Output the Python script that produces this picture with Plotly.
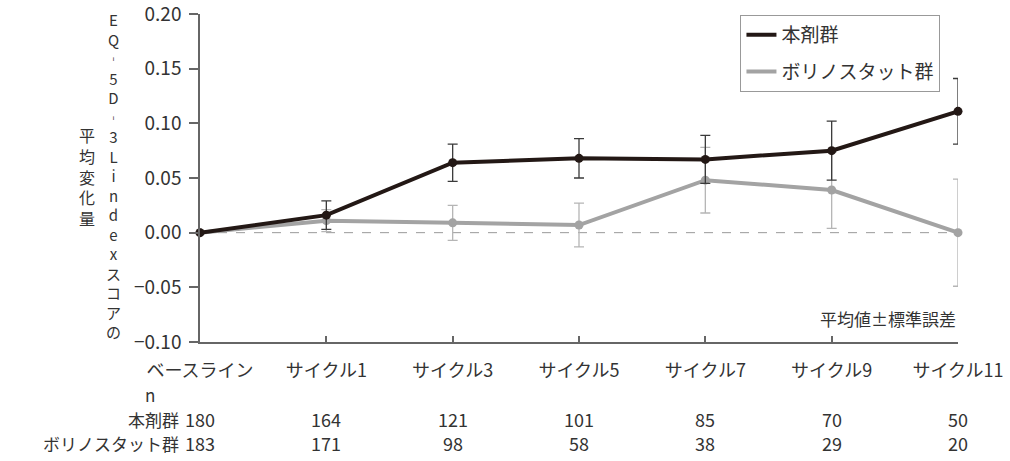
import plotly.graph_objects as go

categories = ["ベースライン", "サイクル1", "サイクル3", "サイクル5", "サイクル7", "サイクル9", "サイクル11"]
x_pos = [0, 1, 2, 3, 4, 5, 6]

drug_mean = [0.000, 0.016, 0.064, 0.068, 0.067, 0.075, 0.111]
drug_se = [0.000, 0.013, 0.017, 0.018, 0.022, 0.027, 0.030]
vor_mean = [0.000, 0.011, 0.009, 0.007, 0.048, 0.039, 0.000]
vor_se = [0.000, 0.010, 0.016, 0.020, 0.030, 0.035, 0.049]

n_drug = [180, 164, 121, 101, 85, 70, 50]
n_vor = [183, 171, 98, 58, 38, 29, 20]

name_drug = "本剤群"
name_vor = "ボリノスタット群"
y_ticks = [-0.10, -0.05, 0.00, 0.05, 0.10, 0.15, 0.20]

FONT = "Noto Sans CJK JP"
TXT = "#333333"
BLACK = "#231815"
GRAY = "#a3a3a3"

fig = go.Figure()

fig.add_trace(go.Scatter(
    x=x_pos, y=vor_mean, mode="lines+markers", name=name_vor, showlegend=False,
    line=dict(color=GRAY, width=4), marker=dict(color=GRAY, size=9),
    error_y=dict(type="data", array=vor_se, visible=True, color="#b5b5b5", thickness=1.3, width=5),
    cliponaxis=False,
))
fig.add_trace(go.Scatter(
    x=x_pos, y=drug_mean, mode="lines+markers", name=name_drug, showlegend=False,
    line=dict(color=BLACK, width=4), marker=dict(color=BLACK, size=9),
    error_y=dict(type="data", array=drug_se, visible=True, color="#3a3a3a", thickness=1.3, width=5),
    cliponaxis=False,
))
# legend-only entries (line samples only)
fig.add_trace(go.Scatter(x=[None], y=[None], mode="lines", name=name_drug,
                         line=dict(color=BLACK, width=4), legendgroup="a"))
fig.add_trace(go.Scatter(x=[None], y=[None], mode="lines", name=name_vor,
                         line=dict(color=GRAY, width=4), legendgroup="b"))

# zero reference line
fig.add_shape(type="line", xref="paper", yref="y", x0=0, x1=1, y0=0, y1=0,
              line=dict(color="#999999", width=1, dash="dash"), layer="below")

fig.update_layout(
    width=1010, height=461,
    margin=dict(l=200, r=52, t=14, b=119, autoexpand=False),
    paper_bgcolor="white", plot_bgcolor="white",
    font=dict(family=FONT, size=18, color=TXT),
    legend=dict(x=0.713, y=0.997, xanchor="left", yanchor="top",
                bordercolor="#999999", borderwidth=1, bgcolor="white",
                font=dict(size=19, color=TXT), traceorder="grouped",
                tracegroupgap=9, itemwidth=30),
    xaxis=dict(range=[0, 6], tickvals=x_pos, ticktext=categories,
               showline=True, linecolor="#666666", linewidth=1.5,
               ticks="inside", ticklen=6, tickcolor="#666666", tickwidth=1.5,
               showgrid=False, zeroline=False, ticklabelstandoff=12,
               automargin=False, ticklabeloverflow="allow",
               tickfont=dict(size=18, color=TXT)),
    yaxis=dict(range=[-0.1000001, 0.2000001], tickvals=y_ticks, tickformat=".2f",
               showline=True, linecolor="#666666", linewidth=1.5,
               ticks="outside", ticklen=9, tickcolor="#666666", tickwidth=1.5,
               showgrid=False, zeroline=False, ticklabelstandoff=4,
               automargin=False, ticklabeloverflow="allow",
               tickfont=dict(size=19, color=TXT)),
)

def ypaper(px):
    return (342 - px) / 328.0

def xpaper(px):
    return (px - 200) / 758.0

# vertical y-axis titles
col1 = ["E", "Q", "︲", "5", "D", "︲", "3", "L", "i", "n", "d", "e", "x", "ス", "コ", "ア", "の"]
col2 = ["平", "均", "変", "化", "量"]
fig.add_annotation(text="<br>".join(col1), xref="paper", yref="paper",
                   x=xpaper(113), y=ypaper(175), xanchor="center", yanchor="middle",
                   showarrow=False, font=dict(size=15, color=TXT))
fig.add_annotation(text="<br>".join(col2), xref="paper", yref="paper",
                   x=xpaper(87), y=ypaper(176), xanchor="center", yanchor="middle",
                   showarrow=False, font=dict(size=16, color=TXT))

fig.add_annotation(text="平均値±標準誤差", xref="paper", yref="paper",
                   x=1.0, y=ypaper(318), xanchor="right", yanchor="middle",
                   showarrow=False, font=dict(size=17, color=TXT))

# n table
fig.add_annotation(text="n", xref="paper", yref="paper", x=xpaper(150), y=ypaper(394),
                   xanchor="center", yanchor="middle", showarrow=False, font=dict(size=17, color=TXT))
fig.add_annotation(text=name_drug, xref="paper", yref="paper", x=xpaper(181), y=ypaper(419),
                   xanchor="right", yanchor="middle", showarrow=False, font=dict(size=17, color=TXT))
fig.add_annotation(text=name_vor, xref="paper", yref="paper", x=xpaper(181), y=ypaper(443),
                   xanchor="right", yanchor="middle", showarrow=False, font=dict(size=17, color=TXT))
for xv, a, b in zip(x_pos, n_drug, n_vor):
    fig.add_annotation(text=str(a), xref="x", yref="paper", x=xv, y=ypaper(419),
                       xanchor="center", yanchor="middle", showarrow=False, font=dict(size=18, color=TXT))
    fig.add_annotation(text=str(b), xref="x", yref="paper", x=xv, y=ypaper(443),
                       xanchor="center", yanchor="middle", showarrow=False, font=dict(size=18, color=TXT))

fig.write_html("out.html", config={"displayModeBar": False},
               post_script="document.body.style.margin='0';document.body.style.overflow='hidden';")
